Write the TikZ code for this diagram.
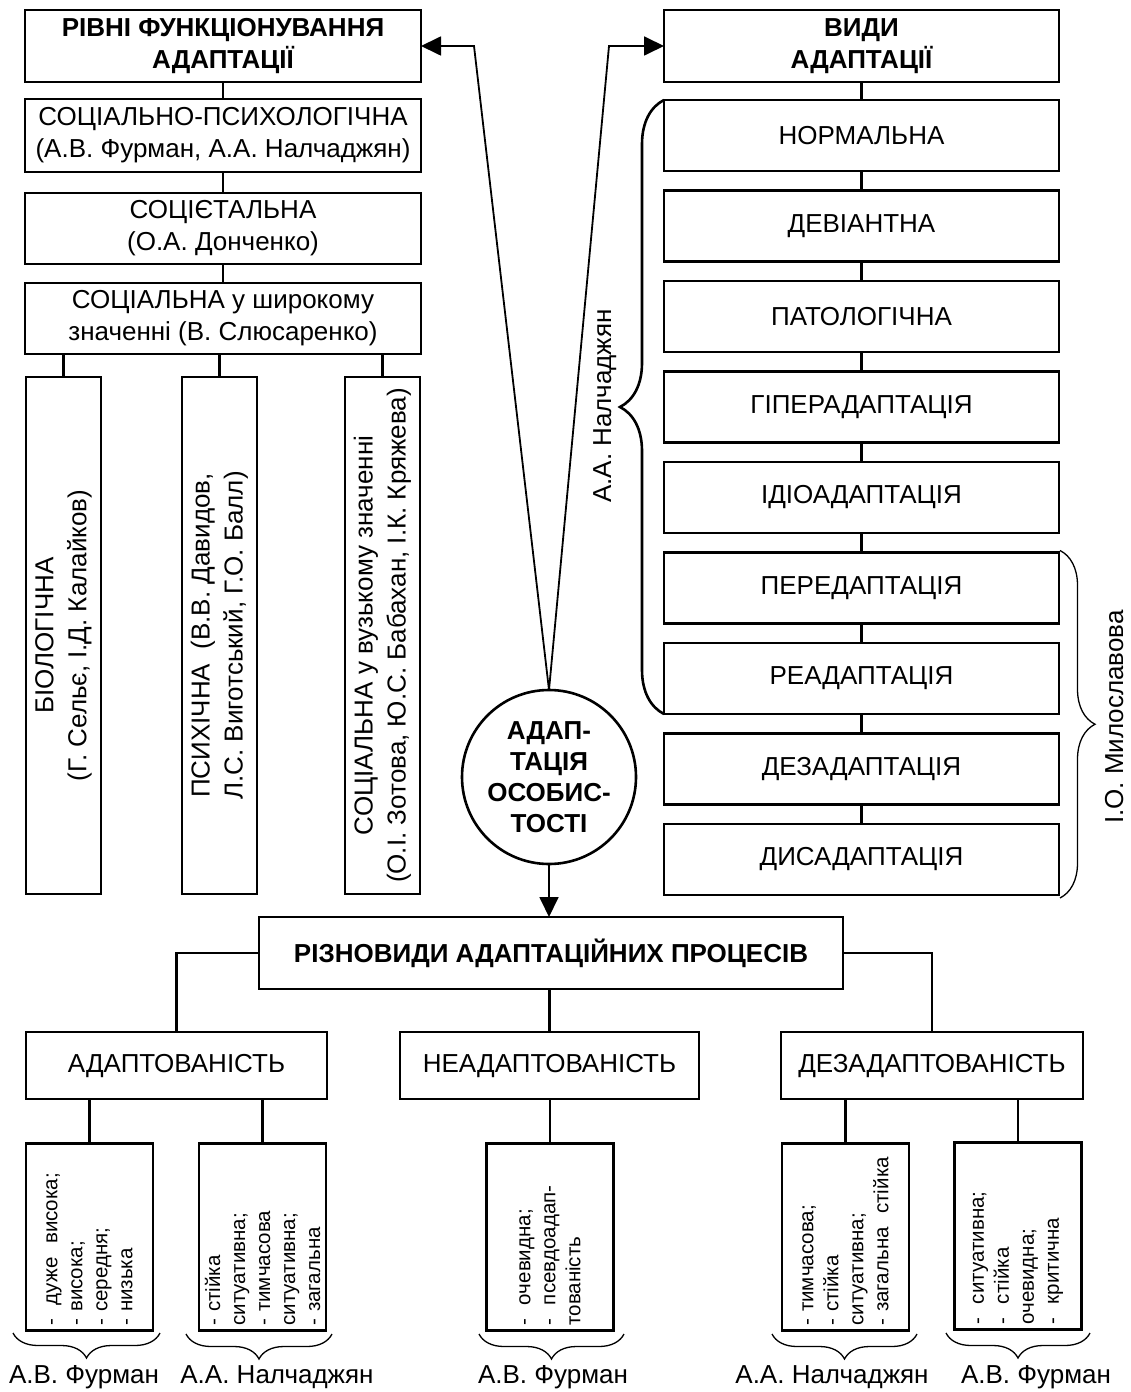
\documentclass[tikz,border=0pt]{standalone}
\usepackage{fontspec}
\setmainfont{Liberation Sans}
\usetikzlibrary{arrows.meta,decorations.pathreplacing,calc}
\begin{document}
\begin{tikzpicture}[x=1bp,y=-1bp,
  every node/.style={inner sep=0pt, outer sep=0pt},
  txt/.style={font=\fontsize{26bp}{32bp}\selectfont},
  box/.style={draw, line width=2.6bp, align=center, font=\fontsize{26bp}{32bp}\selectfont},
  hbox/.style={box, font=\fontsize{26bp}{32bp}\selectfont\bfseries},
  lcol/.style={box, minimum width=396bp, minimum height=72bp},
  rcol/.style={box, minimum width=395bp, minimum height=71bp},
  vbox/.style={box, rotate=90, minimum width=517bp, minimum height=75bp, font=\fontsize{26bp}{33bp}\selectfont},
  kbox/.style={box, minimum height=67bp},
  lbox/.style={draw, line width=2.6bp, rotate=90, minimum width=187bp, minimum height=127bp,
     text width=177bp, inner xsep=5bp, align=left, font=\fontsize{20.5bp}{25bp}\selectfont},
  conn/.style={line width=2.6bp},
  arr/.style={line width=1.8bp, -{Triangle[length=20bp,width=19bp]}},
  thinbrace/.style={line width=1.3bp, decorate, decoration={brace, amplitude=#1}},
  thickbrace/.style={line width=2.6bp, decorate, decoration={brace, amplitude=#1}}
]
\useasboundingbox (0,0) rectangle (1130,1392);

% ---------- left column ----------
\node[hbox, minimum width=396bp, minimum height=72bp] (L0) at (223,46) {РІВНІ ФУНКЦІОНУВАННЯ\\АДАПТАЦІЇ};
\node[lcol, minimum height=73bp] (L1) at (223,135.5) {СОЦІАЛЬНО-ПСИХОЛОГІЧНА\\(А.В. Фурман, А.А. Налчаджян)};
\node[lcol, minimum height=71bp] (L2) at (223,228.5) {СОЦІЄТАЛЬНА\\(О.А. Донченко)};
\node[lcol, minimum height=71bp] (L3) at (223,318.5) {СОЦІАЛЬНА у широкому\\значенні (В. Слюсаренко)};

\node[vbox] (V1) at (63.5,635.5) {БІОЛОГІЧНА\\(Г. Сельє, І.Д. Калайков)};
\node[vbox] (V2) at (219.5,635.5) {ПСИХІЧНА\ \ (В.В. Давидов,\\Л.С. Виготський, Г.О. Балл)};
\node[vbox] (V3) at (382.5,635.5) {СОЦІАЛЬНА у вузькому значенні\\(О.І. Зотова, Ю.С. Бабахан, І.К. Кряжева)};

\draw[conn] (L0.south) -- (L1.north);
\draw[conn] (L1.south) -- (L2.north);
\draw[conn] (L2.south) -- (L3.north);
\draw[conn] (L3.south -| V1.center) -- (V1);
\draw[conn] (L3.south -| V2.center) -- (V2);
\draw[conn] (L3.south -| V3.center) -- (V3);

% ---------- right column ----------
\node[hbox, minimum width=395bp, minimum height=72bp] (R0) at (861.5,46) {ВИДИ\\АДАПТАЦІЇ};
\node[rcol] (R1) at (861.5,135.5) {НОРМАЛЬНА};
\node[rcol] (R2) at (861.5,226) {ДЕВІАНТНА};
\node[rcol] (R3) at (861.5,316.5) {ПАТОЛОГІЧНА};
\node[rcol] (R4) at (861.5,407) {ГІПЕРАДАПТАЦІЯ};
\node[rcol] (R5) at (861.5,497.5) {ІДІОАДАПТАЦІЯ};
\node[rcol] (R6) at (861.5,588) {ПЕРЕДАПТАЦІЯ};
\node[rcol] (R7) at (861.5,678.5) {РЕАДАПТАЦІЯ};
\node[rcol] (R8) at (861.5,769) {ДЕЗАДАПТАЦІЯ};
\node[rcol] (R9) at (861.5,859.5) {ДИСАДАПТАЦІЯ};

\draw[conn] (R0.south) -- (R1.north);
\draw[conn] (R1.south) -- (R2.north);
\draw[conn] (R2.south) -- (R3.north);
\draw[conn] (R3.south) -- (R4.north);
\draw[conn] (R4.south) -- (R5.north);
\draw[conn] (R5.south) -- (R6.north);
\draw[conn] (R6.south) -- (R7.north);
\draw[conn] (R7.south) -- (R8.north);
\draw[conn] (R8.south) -- (R9.north);

% braces with authors
\draw[thickbrace=44bp] (R7.south west) -- (R1.north west);
\node[txt, rotate=90, anchor=base] (nalch) at (611,406) {А.А. Налчаджян};
\draw[thinbrace=35bp] ($(R6.north east)+(1,-2)$) -- ($(R9.south east)+(1,3)$);
\node[txt, rotate=90, anchor=base] (mylo) at (1123,717) {І.О. Милославова};

% ---------- centre ----------
\node[draw, circle, line width=2.6bp, minimum size=174bp, align=center,
      font=\fontsize{26bp}{31bp}\selectfont\bfseries] (C) at (549,777) {АДАП-\\ТАЦІЯ\\ОСОБИС-\\ТОСТІ};

\coordinate (kL) at (474,46);
\coordinate (kR) at (609,46);
\draw[arr] (C.north) -- (kL) -- (L0.east);
\draw[arr] (C.north) -- (kR) -- (R0.west);

% ---------- bottom ----------
\node[hbox, minimum width=584bp, minimum height=72bp] (B) at (551,953) {РІЗНОВИДИ АДАПТАЦІЙНИХ ПРОЦЕСІВ};
\draw[arr] (C.south) -- (C.south |- B.north);

\node[kbox, minimum width=301bp] (A) at (176.5,1065.5) {АДАПТОВАНІСТЬ};
\node[kbox, minimum width=299bp] (N) at (549.5,1065.5) {НЕАДАПТОВАНІСТЬ};
\node[kbox, minimum width=302bp] (D) at (932,1065.5) {ДЕЗАДАПТОВАНІСТЬ};

\draw[conn] (B.west) -| (A.north);
\draw[conn] (B.east) -| (D.north);
\draw[conn] (N.north |- B.south) -- (N.north);

\node[lbox] (P1) at (89.5,1237) {-\ \ дуже\ \ висока;\\- висока;\\- середня;\\- низька};
\node[lbox] (P2) at (262.5,1237) {- стійка\\ситуативна;\\- тимчасова\\ситуативна;\\- загальна};
\node[lbox] (P3) at (550,1237) {-\ \ очевидна;\\-\ \ псевдоадап-\\тованість};
\node[lbox] (P4) at (845.5,1237) {- тимчасова;\\- стійка\\ситуативна;\\- загальна\ \ стійка};
\node[lbox] (P5) at (1018,1236) {-\ \ ситуативна;\\-\ \ стійка\\очевидна;\\-\ \ критична};

\draw[conn] (A.south -| P1.center) -- (P1);
\draw[conn] (A.south -| P2.center) -- (P2);
\draw[conn] (N.south -| P3.center) -- (P3);
\draw[conn] (D.south -| P4.center) -- (P4);
\draw[conn] (D.south -| P5.center) -- (P5);

\draw[thinbrace=25bp] (160,1333) -- (13,1333);
\draw[thinbrace=25bp] (332,1334) -- (186,1334);
\draw[thinbrace=25bp] (624,1334) -- (479,1334);
\draw[thinbrace=25bp] (917,1334) -- (772,1334);
\draw[thinbrace=25bp] (1090,1333) -- (946,1333);

\node[txt, anchor=base] (a1) at (84,1383) {А.В. Фурман};
\node[txt, anchor=base] (a2) at (277,1383) {А.А. Налчаджян};
\node[txt, anchor=base] (a3) at (553,1383) {А.В. Фурман};
\node[txt, anchor=base] (a4) at (832,1383) {А.А. Налчаджян};
\node[txt, anchor=base] (a5) at (1036,1383) {А.В. Фурман};
\end{tikzpicture}
\end{document}
